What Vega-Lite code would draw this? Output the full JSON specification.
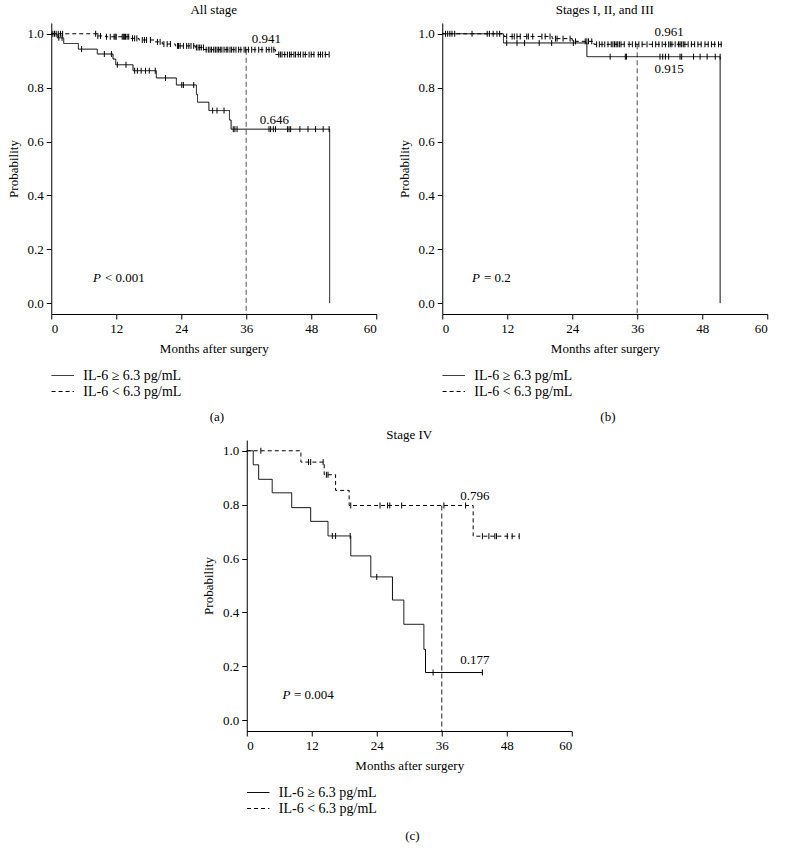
{
"$schema":"https://vega.github.io/schema/vega-lite/v6.json",
"padding":{"left":7,"top":4,"right":4,"bottom":2},
"config":{
 "font":"Liberation Serif",
 "view":{"stroke":null},
 "axis":{"grid":false,"domainColor":"#000","tickColor":"#000","labelColor":"#000","titleColor":"#000","labelFontSize":13,"titleFontSize":13,"titleFontWeight":"normal","tickSize":5,"labelPadding":3,"titlePadding":7,"domainWidth":1,"tickWidth":1},
 "legend":{"labelFontSize":14,"labelColor":"#000"},
 "title":{"fontSize":13,"fontWeight":"normal","color":"#000"},
 "concat":{"spacing":15}
},
"datasets":{
 "curves":[
  {"p":"a","g":"hi","t":0,"s":1},{"p":"a","g":"hi","t":1.1,"s":0.985},{"p":"a","g":"hi","t":2.3,"s":0.964},{"p":"a","g":"hi","t":5.0,"s":0.943},{"p":"a","g":"hi","t":8.5,"s":0.925},{"p":"a","g":"hi","t":11.4,"s":0.906},{"p":"a","g":"hi","t":11.9,"s":0.885},{"p":"a","g":"hi","t":15.1,"s":0.863},{"p":"a","g":"hi","t":19.4,"s":0.836},{"p":"a","g":"hi","t":23.1,"s":0.81},{"p":"a","g":"hi","t":26.8,"s":0.775},{"p":"a","g":"hi","t":27.0,"s":0.746},{"p":"a","g":"hi","t":29.1,"s":0.715},{"p":"a","g":"hi","t":32.9,"s":0.68},{"p":"a","g":"hi","t":33.2,"s":0.646},{"p":"a","g":"hi","t":51.4,"s":0.646},{"p":"a","g":"hi","t":51.4,"s":0},
  {"p":"a","g":"lo","t":0,"s":1},{"p":"a","g":"lo","t":8.5,"s":0.992},{"p":"a","g":"lo","t":10.0,"s":0.989},{"p":"a","g":"lo","t":14.6,"s":0.983},{"p":"a","g":"lo","t":16.2,"s":0.977},{"p":"a","g":"lo","t":19.0,"s":0.97},{"p":"a","g":"lo","t":20.5,"s":0.962},{"p":"a","g":"lo","t":22.9,"s":0.955},{"p":"a","g":"lo","t":26.6,"s":0.949},{"p":"a","g":"lo","t":28.2,"s":0.941},{"p":"a","g":"lo","t":41.4,"s":0.923},{"p":"a","g":"lo","t":51.6,"s":0.923},
  {"p":"b","g":"hi","t":0,"s":1},{"p":"b","g":"hi","t":11.3,"s":0.966},{"p":"b","g":"hi","t":26.7,"s":0.915},{"p":"b","g":"hi","t":51.3,"s":0.915},{"p":"b","g":"hi","t":51.3,"s":0},
  {"p":"b","g":"lo","t":0,"s":1},{"p":"b","g":"lo","t":11.4,"s":0.99},{"p":"b","g":"lo","t":20.3,"s":0.982},{"p":"b","g":"lo","t":24.0,"s":0.972},{"p":"b","g":"lo","t":28.0,"s":0.961},{"p":"b","g":"lo","t":51.6,"s":0.961},
  {"p":"c","g":"hi","t":0,"s":1},{"p":"c","g":"hi","t":1.2,"s":0.948},{"p":"c","g":"hi","t":2.2,"s":0.894},{"p":"c","g":"hi","t":4.7,"s":0.844},{"p":"c","g":"hi","t":8.3,"s":0.789},{"p":"c","g":"hi","t":11.8,"s":0.738},{"p":"c","g":"hi","t":15.0,"s":0.684},{"p":"c","g":"hi","t":19.2,"s":0.61},{"p":"c","g":"hi","t":22.9,"s":0.532},{"p":"c","g":"hi","t":26.9,"s":0.446},{"p":"c","g":"hi","t":29.0,"s":0.356},{"p":"c","g":"hi","t":32.7,"s":0.263},{"p":"c","g":"hi","t":33.0,"s":0.177},{"p":"c","g":"hi","t":43.5,"s":0.177},
  {"p":"c","g":"lo","t":0,"s":1},{"p":"c","g":"lo","t":10.0,"s":0.958},{"p":"c","g":"lo","t":14.3,"s":0.911},{"p":"c","g":"lo","t":16.4,"s":0.853},{"p":"c","g":"lo","t":18.9,"s":0.797},{"p":"c","g":"lo","t":41.8,"s":0.683},{"p":"c","g":"lo","t":50.3,"s":0.683}
 ],
 "censor":[
  {"p":"a","t":1.4,"s":0.985},{"p":"a","t":2.0,"s":0.985},{"p":"a","t":5.6,"s":0.943},{"p":"a","t":9.8,"s":0.925},{"p":"a","t":11.1,"s":0.925},{"p":"a","t":12.2,"s":0.885},{"p":"a","t":13.8,"s":0.885},{"p":"a","t":15.4,"s":0.863},{"p":"a","t":15.9,"s":0.863},{"p":"a","t":16.6,"s":0.863},{"p":"a","t":17.4,"s":0.863},{"p":"a","t":18.1,"s":0.863},{"p":"a","t":19.2,"s":0.863},{"p":"a","t":21.1,"s":0.836},{"p":"a","t":24.1,"s":0.81},{"p":"a","t":24.4,"s":0.81},{"p":"a","t":26.3,"s":0.81},{"p":"a","t":29.8,"s":0.715},{"p":"a","t":30.6,"s":0.715},{"p":"a","t":31.9,"s":0.715},
  {"p":"a","t":33.6,"s":0.646},{"p":"a","t":33.9,"s":0.646},{"p":"a","t":34.3,"s":0.646},{"p":"a","t":40.2,"s":0.646},{"p":"a","t":40.5,"s":0.646},{"p":"a","t":41.0,"s":0.646},{"p":"a","t":41.4,"s":0.646},{"p":"a","t":43.6,"s":0.646},{"p":"a","t":43.9,"s":0.646},{"p":"a","t":44.2,"s":0.646},{"p":"a","t":45.9,"s":0.646},{"p":"a","t":47.4,"s":0.646},{"p":"a","t":48.8,"s":0.646},{"p":"a","t":50.2,"s":0.646},{"p":"a","t":51.3,"s":0.646},
  {"p":"a","t":0.3,"s":1},{"p":"a","t":0.6,"s":1},{"p":"a","t":0.9,"s":1},{"p":"a","t":1.3,"s":1},{"p":"a","t":1.7,"s":1},{"p":"a","t":2.1,"s":1},{"p":"a","t":8.2,"s":1},{"p":"a","t":8.6,"s":0.992},{"p":"a","t":9.1,"s":0.992},
  {"p":"a","t":10.2,"s":0.989},{"p":"a","t":10.9,"s":0.989},{"p":"a","t":11.6,"s":0.989},{"p":"a","t":11.8,"s":0.989},{"p":"a","t":12.0,"s":0.989},{"p":"a","t":13.1,"s":0.989},{"p":"a","t":13.3,"s":0.989},{"p":"a","t":13.5,"s":0.989},{"p":"a","t":13.7,"s":0.989},{"p":"a","t":14.0,"s":0.989},{"p":"a","t":14.3,"s":0.989},
  {"p":"a","t":15.0,"s":0.983},{"p":"a","t":15.4,"s":0.983},{"p":"a","t":15.8,"s":0.983},{"p":"a","t":16.8,"s":0.977},{"p":"a","t":17.2,"s":0.977},{"p":"a","t":17.6,"s":0.977},{"p":"a","t":18.3,"s":0.977},{"p":"a","t":19.6,"s":0.97},{"p":"a","t":20.1,"s":0.97},{"p":"a","t":20.8,"s":0.962},{"p":"a","t":21.4,"s":0.962},{"p":"a","t":22.0,"s":0.962},
  {"p":"a","t":23.3,"s":0.955},{"p":"a","t":23.5,"s":0.955},{"p":"a","t":23.8,"s":0.955},{"p":"a","t":24.4,"s":0.955},{"p":"a","t":25.0,"s":0.955},{"p":"a","t":25.4,"s":0.955},{"p":"a","t":25.8,"s":0.955},{"p":"a","t":26.3,"s":0.955},{"p":"a","t":26.8,"s":0.949},{"p":"a","t":27.1,"s":0.949},{"p":"a","t":27.4,"s":0.949},{"p":"a","t":27.7,"s":0.949},{"p":"a","t":28.1,"s":0.949},
  {"p":"a","t":28.6,"s":0.941},{"p":"a","t":29.0,"s":0.941},{"p":"a","t":29.3,"s":0.941},{"p":"a","t":29.6,"s":0.941},{"p":"a","t":30.0,"s":0.941},{"p":"a","t":30.3,"s":0.941},{"p":"a","t":30.6,"s":0.941},{"p":"a","t":30.9,"s":0.941},{"p":"a","t":31.2,"s":0.941},{"p":"a","t":31.5,"s":0.941},{"p":"a","t":31.9,"s":0.941},{"p":"a","t":32.3,"s":0.941},{"p":"a","t":32.6,"s":0.941},{"p":"a","t":33.0,"s":0.941},{"p":"a","t":33.3,"s":0.941},{"p":"a","t":33.7,"s":0.941},{"p":"a","t":34.1,"s":0.941},{"p":"a","t":34.6,"s":0.941},{"p":"a","t":35.0,"s":0.941},{"p":"a","t":35.6,"s":0.941},{"p":"a","t":35.9,"s":0.941},{"p":"a","t":36.4,"s":0.941},{"p":"a","t":37.0,"s":0.941},{"p":"a","t":37.6,"s":0.941},{"p":"a","t":38.3,"s":0.941},{"p":"a","t":38.9,"s":0.941},{"p":"a","t":39.7,"s":0.941},{"p":"a","t":40.2,"s":0.941},{"p":"a","t":40.7,"s":0.941},{"p":"a","t":41.1,"s":0.941},
  {"p":"a","t":42.0,"s":0.923},{"p":"a","t":42.3,"s":0.923},{"p":"a","t":42.6,"s":0.923},{"p":"a","t":43.1,"s":0.923},{"p":"a","t":43.6,"s":0.923},{"p":"a","t":44.0,"s":0.923},{"p":"a","t":44.3,"s":0.923},{"p":"a","t":44.8,"s":0.923},{"p":"a","t":45.1,"s":0.923},{"p":"a","t":45.6,"s":0.923},{"p":"a","t":46.0,"s":0.923},{"p":"a","t":46.5,"s":0.923},{"p":"a","t":46.9,"s":0.923},{"p":"a","t":47.6,"s":0.923},{"p":"a","t":48.0,"s":0.923},{"p":"a","t":48.5,"s":0.923},{"p":"a","t":49.3,"s":0.923},{"p":"a","t":49.7,"s":0.923},{"p":"a","t":50.1,"s":0.923},{"p":"a","t":50.6,"s":0.923},{"p":"a","t":51.3,"s":0.923},
  {"p":"b","t":11.9,"s":0.966},{"p":"b","t":13.8,"s":0.966},{"p":"b","t":15.2,"s":0.966},{"p":"b","t":17.9,"s":0.966},{"p":"b","t":20.2,"s":0.966},{"p":"b","t":24.2,"s":0.966},
  {"p":"b","t":31.0,"s":0.915},{"p":"b","t":33.8,"s":0.915},{"p":"b","t":34.0,"s":0.915},{"p":"b","t":40.2,"s":0.915},{"p":"b","t":40.7,"s":0.915},{"p":"b","t":41.2,"s":0.915},{"p":"b","t":41.8,"s":0.915},{"p":"b","t":43.9,"s":0.915},{"p":"b","t":44.2,"s":0.915},{"p":"b","t":46.4,"s":0.915},{"p":"b","t":47.6,"s":0.915},{"p":"b","t":48.9,"s":0.915},{"p":"b","t":50.4,"s":0.915},{"p":"b","t":51.3,"s":0.915},
  {"p":"b","t":0.6,"s":1},{"p":"b","t":1.0,"s":1},{"p":"b","t":1.4,"s":1},{"p":"b","t":1.8,"s":1},{"p":"b","t":2.3,"s":1},{"p":"b","t":5.5,"s":1},{"p":"b","t":8.3,"s":1},{"p":"b","t":8.7,"s":1},{"p":"b","t":9.4,"s":1},{"p":"b","t":10.1,"s":1},{"p":"b","t":10.6,"s":1},
  {"p":"b","t":11.9,"s":0.99},{"p":"b","t":12.9,"s":0.99},{"p":"b","t":13.3,"s":0.99},{"p":"b","t":13.8,"s":0.99},{"p":"b","t":14.4,"s":0.99},{"p":"b","t":15.6,"s":0.99},{"p":"b","t":15.9,"s":0.99},{"p":"b","t":16.7,"s":0.99},{"p":"b","t":18.4,"s":0.99},{"p":"b","t":19.0,"s":0.99},{"p":"b","t":19.9,"s":0.99},
  {"p":"b","t":20.9,"s":0.982},{"p":"b","t":21.2,"s":0.982},{"p":"b","t":22.3,"s":0.982},{"p":"b","t":23.6,"s":0.982},{"p":"b","t":24.6,"s":0.972},{"p":"b","t":26.4,"s":0.972},{"p":"b","t":26.7,"s":0.972},{"p":"b","t":27.0,"s":0.972},{"p":"b","t":27.6,"s":0.972},
  {"p":"b","t":28.5,"s":0.961},{"p":"b","t":29.0,"s":0.961},{"p":"b","t":29.5,"s":0.961},{"p":"b","t":30.0,"s":0.961},{"p":"b","t":30.6,"s":0.961},{"p":"b","t":31.2,"s":0.961},{"p":"b","t":31.5,"s":0.961},{"p":"b","t":31.8,"s":0.961},{"p":"b","t":32.1,"s":0.961},{"p":"b","t":32.4,"s":0.961},{"p":"b","t":32.7,"s":0.961},{"p":"b","t":33.0,"s":0.961},{"p":"b","t":33.6,"s":0.961},{"p":"b","t":34.5,"s":0.961},{"p":"b","t":35.1,"s":0.961},{"p":"b","t":35.7,"s":0.961},{"p":"b","t":36.3,"s":0.961},{"p":"b","t":36.9,"s":0.961},{"p":"b","t":37.8,"s":0.961},{"p":"b","t":38.8,"s":0.961},{"p":"b","t":39.4,"s":0.961},{"p":"b","t":40.0,"s":0.961},{"p":"b","t":40.6,"s":0.961},{"p":"b","t":41.2,"s":0.961},{"p":"b","t":41.8,"s":0.961},{"p":"b","t":42.1,"s":0.961},{"p":"b","t":42.4,"s":0.961},{"p":"b","t":43.0,"s":0.961},{"p":"b","t":43.6,"s":0.961},{"p":"b","t":43.9,"s":0.961},{"p":"b","t":44.2,"s":0.961},{"p":"b","t":44.5,"s":0.961},{"p":"b","t":44.8,"s":0.961},{"p":"b","t":45.4,"s":0.961},{"p":"b","t":46.0,"s":0.961},{"p":"b","t":46.6,"s":0.961},{"p":"b","t":47.2,"s":0.961},{"p":"b","t":47.8,"s":0.961},{"p":"b","t":48.5,"s":0.961},{"p":"b","t":49.1,"s":0.961},{"p":"b","t":49.7,"s":0.961},{"p":"b","t":50.3,"s":0.961},{"p":"b","t":51.0,"s":0.961},{"p":"b","t":51.5,"s":0.961},
  {"p":"c","t":15.8,"s":0.684},{"p":"c","t":16.4,"s":0.684},{"p":"c","t":19.1,"s":0.684},{"p":"c","t":24.0,"s":0.532},{"p":"c","t":34.4,"s":0.177},{"p":"c","t":43.5,"s":0.177},
  {"p":"c","t":2.6,"s":1},{"p":"c","t":11.4,"s":0.958},{"p":"c","t":11.8,"s":0.958},{"p":"c","t":14.1,"s":0.958},{"p":"c","t":14.7,"s":0.911},{"p":"c","t":15.0,"s":0.911},{"p":"c","t":19.2,"s":0.797},{"p":"c","t":24.6,"s":0.797},{"p":"c","t":26.0,"s":0.797},{"p":"c","t":26.4,"s":0.797},{"p":"c","t":28.6,"s":0.797},{"p":"c","t":36.4,"s":0.797},{"p":"c","t":40.4,"s":0.797},{"p":"c","t":43.5,"s":0.683},{"p":"c","t":44.7,"s":0.683},{"p":"c","t":45.8,"s":0.683},{"p":"c","t":46.1,"s":0.683},{"p":"c","t":48.1,"s":0.683},{"p":"c","t":49.0,"s":0.683},{"p":"c","t":50.3,"s":0.683}
 ],
 "ref":[{"p":"a","t":36,"s":0.941,"s0":-0.04},{"p":"b","t":36,"s":0.961,"s0":-0.04},{"p":"c","t":36,"s":0.797,"s0":-0.04}],
 "labels":[{"p":"a","t":39.7,"s":0.981,"label":"0.941"},{"p":"a","t":41.2,"s":0.681,"label":"0.646"},{"p":"b","t":41.9,"s":1.005,"label":"0.961"},{"p":"b","t":41.9,"s":0.869,"label":"0.915"},{"p":"c","t":42.1,"s":0.832,"label":"0.796"},{"p":"c","t":42.1,"s":0.223,"label":"0.177"}],
 "pv":[{"p":"a","k":"P","t":7.7,"s":0.095,"label":"P"},{"p":"a","k":"v","t":9.9,"s":0.095,"label":"< 0.001"},{"p":"b","k":"P","t":5.5,"s":0.095,"label":"P"},{"p":"b","k":"v","t":7.7,"s":0.095,"label":"= 0.2"},{"p":"c","k":"P","t":6.6,"s":0.094,"label":"P"},{"p":"c","k":"v","t":8.7,"s":0.094,"label":"= 0.004"}]
},
"center":true,
"spacing":5,
"resolve":{"scale":{"strokeDash":"independent"},"legend":{"strokeDash":"independent"}},
"vconcat":[
 {"hconcat":[
  {"title":{"text":"(a)","orient":"bottom","offset":12,"anchor":"middle","dx":25},"resolve":{"scale":{"strokeDash":"independent"},"legend":{"strokeDash":"independent"}},
   "vconcat":[{
    "width":325,"height":291,
    "title":{"text":"All stage","frame":"group","offset":6},
    "encoding":{
     "x":{"field":"t","type":"quantitative","scale":{"domain":[0,60],"nice":false,"zero":false},"axis":{"values":[0,12,24,36,48,60],"title":"Months after surgery"}},
     "y":{"field":"s","type":"quantitative","scale":{"domain":[-0.04,1.04],"nice":false,"zero":false},"axis":{"values":[0,0.2,0.4,0.6,0.8,1],"format":".1f","title":"Probability"}}
    },
    "layer":[
     {"data":{"name":"ref"},"transform":[{"filter":"datum.p=='a'"}],"mark":{"type":"rule","color":"#8a8a8a","strokeDash":[5,3],"strokeWidth":1.5},"encoding":{"y2":{"field":"s0"}}},
     {"data":{"name":"curves"},"transform":[{"filter":"datum.p=='a'"}],"mark":{"type":"line","interpolate":"step-after","color":"#000","strokeWidth":1},
      "encoding":{"strokeDash":{"field":"g","type":"nominal","scale":{"domain":["hi","lo"],"range":[[1,0],[4,3]]},
       "legend":{"title":null,"orient":"bottom","direction":"vertical","symbolType":"M-1.6,0H1.6","symbolSize":196,"symbolOffset":4,"symbolStrokeWidth":1,"symbolStrokeColor":"#000","labelOffset":13,"rowPadding":1,"offset":13,"padding":0,"labelExpr":"datum.label == 'hi' ? 'IL-6 ≥ 6.3 pg/mL' : 'IL-6 < 6.3 pg/mL'"}}}},
     {"data":{"name":"censor"},"transform":[{"filter":"datum.p=='a'"}],"mark":{"type":"point","shape":"M0,-1L0,1","size":36,"color":"#000","strokeWidth":1,"filled":false,"opacity":1}},
     {"data":{"name":"labels"},"transform":[{"filter":"datum.p=='a'"}],"mark":{"type":"text","fontSize":13,"align":"center","baseline":"middle","color":"#000"},"encoding":{"text":{"field":"label"}}},
     {"data":{"name":"pv"},"transform":[{"filter":"datum.p=='a' && datum.k=='P'"}],"mark":{"type":"text","fontSize":13,"fontStyle":"italic","align":"left","baseline":"middle","color":"#000"},"encoding":{"text":{"field":"label"}}},
     {"data":{"name":"pv"},"transform":[{"filter":"datum.p=='a' && datum.k=='v'"}],"mark":{"type":"text","fontSize":13,"align":"left","baseline":"middle","color":"#000"},"encoding":{"text":{"field":"label"}}}
    ]
   }]
  },
  {"title":{"text":"(b)","orient":"bottom","offset":12,"anchor":"middle","dx":25},"resolve":{"scale":{"strokeDash":"independent"},"legend":{"strokeDash":"independent"}},
   "vconcat":[{
    "width":325,"height":291,
    "title":{"text":"Stages I, II, and III","frame":"group","offset":6},
    "encoding":{
     "x":{"field":"t","type":"quantitative","scale":{"domain":[0,60],"nice":false,"zero":false},"axis":{"values":[0,12,24,36,48,60],"title":"Months after surgery"}},
     "y":{"field":"s","type":"quantitative","scale":{"domain":[-0.04,1.04],"nice":false,"zero":false},"axis":{"values":[0,0.2,0.4,0.6,0.8,1],"format":".1f","title":"Probability"}}
    },
    "layer":[
     {"data":{"name":"ref"},"transform":[{"filter":"datum.p=='b'"}],"mark":{"type":"rule","color":"#8a8a8a","strokeDash":[5,3],"strokeWidth":1.5},"encoding":{"y2":{"field":"s0"}}},
     {"data":{"name":"curves"},"transform":[{"filter":"datum.p=='b'"}],"mark":{"type":"line","interpolate":"step-after","color":"#000","strokeWidth":1},
      "encoding":{"strokeDash":{"field":"g","type":"nominal","scale":{"domain":["hi","lo"],"range":[[1,0],[4,3]]},
       "legend":{"title":null,"orient":"bottom","direction":"vertical","symbolType":"M-1.6,0H1.6","symbolSize":196,"symbolOffset":4,"symbolStrokeWidth":1,"symbolStrokeColor":"#000","labelOffset":13,"rowPadding":1,"offset":13,"padding":0,"labelExpr":"datum.label == 'hi' ? 'IL-6 ≥ 6.3 pg/mL' : 'IL-6 < 6.3 pg/mL'"}}}},
     {"data":{"name":"censor"},"transform":[{"filter":"datum.p=='b'"}],"mark":{"type":"point","shape":"M0,-1L0,1","size":36,"color":"#000","strokeWidth":1,"filled":false,"opacity":1}},
     {"data":{"name":"labels"},"transform":[{"filter":"datum.p=='b'"}],"mark":{"type":"text","fontSize":13,"align":"center","baseline":"middle","color":"#000"},"encoding":{"text":{"field":"label"}}},
     {"data":{"name":"pv"},"transform":[{"filter":"datum.p=='b' && datum.k=='P'"}],"mark":{"type":"text","fontSize":13,"fontStyle":"italic","align":"left","baseline":"middle","color":"#000"},"encoding":{"text":{"field":"label"}}},
     {"data":{"name":"pv"},"transform":[{"filter":"datum.p=='b' && datum.k=='v'"}],"mark":{"type":"text","fontSize":13,"align":"left","baseline":"middle","color":"#000"},"encoding":{"text":{"field":"label"}}}
    ]
   }]
  }
 ],"spacing":20,"resolve":{"scale":{"strokeDash":"independent"},"legend":{"strokeDash":"independent"}}},
 {"title":{"text":"(c)","orient":"bottom","offset":14,"anchor":"middle","dx":25},"resolve":{"scale":{"strokeDash":"independent"},"legend":{"strokeDash":"independent"}},
   "vconcat":[{
    "width":325,"height":291,
    "title":{"text":"Stage IV","frame":"group","offset":-2},
    "encoding":{
     "x":{"field":"t","type":"quantitative","scale":{"domain":[0,60],"nice":false,"zero":false},"axis":{"values":[0,12,24,36,48,60],"title":"Months after surgery"}},
     "y":{"field":"s","type":"quantitative","scale":{"domain":[-0.04,1.04],"nice":false,"zero":false},"axis":{"values":[0,0.2,0.4,0.6,0.8,1],"format":".1f","title":"Probability"}}
    },
    "layer":[
     {"data":{"name":"ref"},"transform":[{"filter":"datum.p=='c'"}],"mark":{"type":"rule","color":"#444","strokeDash":[5,3],"strokeWidth":1.2},"encoding":{"y2":{"field":"s0"}}},
     {"data":{"name":"curves"},"transform":[{"filter":"datum.p=='c'"}],"mark":{"type":"line","interpolate":"step-after","color":"#000","strokeWidth":1},
      "encoding":{"strokeDash":{"field":"g","type":"nominal","scale":{"domain":["hi","lo"],"range":[[1,0],[4,3]]},
       "legend":{"title":null,"orient":"bottom","direction":"vertical","symbolType":"M-1.6,0H1.6","symbolSize":196,"symbolOffset":4,"symbolStrokeWidth":1,"symbolStrokeColor":"#000","labelOffset":13,"rowPadding":1,"offset":13,"padding":0,"labelExpr":"datum.label == 'hi' ? 'IL-6 ≥ 6.3 pg/mL' : 'IL-6 < 6.3 pg/mL'"}}}},
     {"data":{"name":"censor"},"transform":[{"filter":"datum.p=='c'"}],"mark":{"type":"point","shape":"M0,-1L0,1","size":36,"color":"#000","strokeWidth":1,"filled":false,"opacity":1}},
     {"data":{"name":"labels"},"transform":[{"filter":"datum.p=='c'"}],"mark":{"type":"text","fontSize":13,"align":"center","baseline":"middle","color":"#000"},"encoding":{"text":{"field":"label"}}},
     {"data":{"name":"pv"},"transform":[{"filter":"datum.p=='c' && datum.k=='P'"}],"mark":{"type":"text","fontSize":13,"fontStyle":"italic","align":"left","baseline":"middle","color":"#000"},"encoding":{"text":{"field":"label"}}},
     {"data":{"name":"pv"},"transform":[{"filter":"datum.p=='c' && datum.k=='v'"}],"mark":{"type":"text","fontSize":13,"align":"left","baseline":"middle","color":"#000"},"encoding":{"text":{"field":"label"}}}
    ]
   }]
 }
]
}
